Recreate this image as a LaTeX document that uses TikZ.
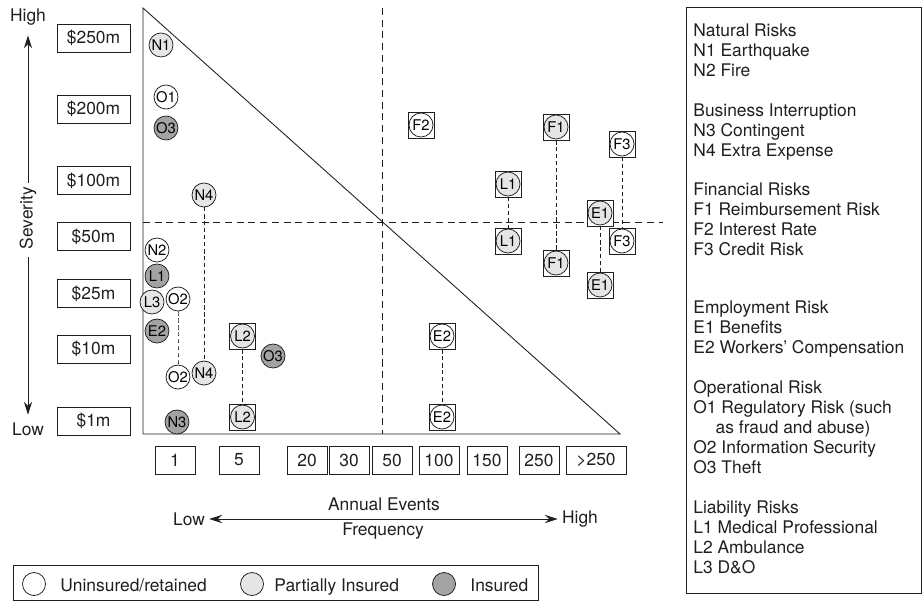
\documentclass[tikz,border=0pt]{standalone}
\usepackage{fontspec}
\setmainfont{TeX Gyre Heros}
\usepackage{tikz}
\usepackage{tikz-network}
\usetikzlibrary{arrows.meta}
\definecolor{partial}{gray}{0.9}
\definecolor{insured}{gray}{0.64}
\definecolor{ink}{gray}{0.12}
\newcommand{\mainsize}{\fontsize{14.85}{17.07}\selectfont}
\newcommand{\risksize}{\fontsize{12.6}{13}\selectfont}

\begin{document}
\begin{tikzpicture}[x=0.03cm,y=-0.03cm,line width=0.75pt,color=ink,font=\mainsize,
  sevbox/.style={draw,minimum width=2.19cm,minimum height=0.84cm,inner sep=0pt},
  freqbox/.style={draw,minimum width=1.2cm,minimum height=0.84cm,inner sep=0pt},
  axisdash/.style={dash pattern=on 6pt off 4pt},
  risk/.style={draw=ink,line width=0.65pt,inner sep=0pt},
  keytext/.style={anchor=base west,inner sep=0pt},
  tip/.style={-{Stealth[length=11pt,width=7pt]}},
  twotip/.style={{Stealth[length=11pt,width=7pt]}-{Stealth[length=11pt,width=7pt]}}]
\useasboundingbox (0,0) rectangle (923,601);

\node (high) at (28,17) {High};
\node[rotate=90] (sev) at (28,218) {Severity};
\node (low) at (28,429) {Low};
\draw[tip,shorten >=5pt] (sev.east) -- (high.south);
\draw[tip,shorten >=3pt,shorten <=3pt] (sev.west) -- (low.north);

\node[sevbox] (s250) at (93.5,38) {\$250m};
\node[sevbox] (s200) at (93.5,109) {\$200m};
\node[sevbox] (s100) at (93.5,180.5) {\$100m};
\node[sevbox] (s50) at (93.5,236.5) {\$50m};
\node[sevbox] (s25) at (93.5,293.5) {\$25m};
\node[sevbox] (s10) at (93.5,349) {\$10m};
\node[sevbox] (s1) at (93.5,421) {\$1m};

\draw (143,8) -- (143,434) -- (620,434) -- cycle;
\draw[axisdash] (382,8) -- (382,434);
\draw[axisdash] (143,222) -- (663,222);

\node[freqbox] (f1) at (175,460) {1};
\node[freqbox] (f5) at (239,460) {5};
\node[freqbox] (f20) at (307,460) {20};
\node[freqbox] (f30) at (349,460) {30};
\node[freqbox] (f50) at (392,460) {50};
\node[freqbox] (f100) at (439,460) {100};
\node[freqbox] (f150) at (487,460) {150};
\node[freqbox] (f250) at (539,460) {250};
\node[freqbox,minimum width=1.8cm] (fmax) at (596,460) {>250};

\node (annual) at (384,504) {Annual Events};
\node (freq) at (383,531) {Frequency};
\node (flow) at (189,519) {Low};
\node (fhigh) at (580,519) {High};
\draw[twotip] (flow) -- (fhigh);

\Vertex[x=4.83,y=-1.35,size=0.72,color=partial,label=N1,fontsize=\risksize,style={risk}]{N1}
\Vertex[x=4.98,y=-2.91,size=0.72,color=white,label=O1,fontsize=\risksize,style={risk}]{O1}
\Vertex[x=4.98,y=-3.84,size=0.72,color=insured,label=O3,fontsize=\risksize,style={risk}]{O3a}
\Vertex[x=6.12,y=-5.85,size=0.72,color=partial,label=N4,fontsize=\risksize,style={risk}]{N4a}
\Vertex[x=4.71,y=-7.50,size=0.72,color=white,label=N2,fontsize=\risksize,style={risk}]{N2}
\Vertex[x=4.71,y=-8.28,size=0.72,color=insured,label=L1,fontsize=\risksize,style={risk}]{L1a}
\Vertex[x=4.56,y=-9.06,size=0.72,color=partial,label=L3,fontsize=\risksize,style={risk}]{L3}
\Vertex[x=5.34,y=-8.97,size=0.72,color=white,label=O2,fontsize=\risksize,style={risk}]{O2a}
\Vertex[x=4.71,y=-9.93,size=0.72,color=insured,label=E2,fontsize=\risksize,style={risk}]{E2a}
\Vertex[x=8.19,y=-10.68,size=0.72,color=insured,label=O3,fontsize=\risksize,style={risk}]{O3b}
\Vertex[x=5.34,y=-11.31,size=0.72,color=white,label=O2,fontsize=\risksize,style={risk}]{O2b}
\Vertex[x=6.12,y=-11.19,size=0.72,color=partial,label=N4,fontsize=\risksize,style={risk}]{N4b}
\Vertex[x=5.31,y=-12.66,size=0.72,color=insured,label=N3,fontsize=\risksize,style={risk}]{N3}

\Vertex[x=7.275,y=-10.08,size=0.78,shape=rectangle,color=white,style={risk}]{BL2a}
\Vertex[x=7.275,y=-10.08,size=0.72,color=partial,label=L2,fontsize=\risksize,style={risk}]{L2a}
\Vertex[x=7.275,y=-12.51,size=0.78,shape=rectangle,color=white,style={risk}]{BL2b}
\Vertex[x=7.275,y=-12.51,size=0.72,color=partial,label=L2,fontsize=\risksize,style={risk}]{L2b}
\Vertex[x=13.26,y=-10.08,size=0.78,shape=rectangle,color=white,style={risk}]{BE2a}
\Vertex[x=13.26,y=-10.08,size=0.72,color=white,label=E2,fontsize=\risksize,style={risk}]{E2b}
\Vertex[x=13.26,y=-12.51,size=0.78,shape=rectangle,color=white,style={risk}]{BE2b}
\Vertex[x=13.26,y=-12.51,size=0.72,color=white,label=E2,fontsize=\risksize,style={risk}]{E2c}
\Vertex[x=12.63,y=-3.75,size=0.78,shape=rectangle,color=white,style={risk}]{BF2}
\Vertex[x=12.63,y=-3.75,size=0.72,color=white,label=F2,fontsize=\risksize,style={risk}]{F2}
\Vertex[x=16.68,y=-3.81,size=0.78,shape=rectangle,color=white,style={risk}]{BF1a}
\Vertex[x=16.68,y=-3.81,size=0.72,color=partial,label=F1,fontsize=\risksize,style={risk}]{F1a}
\Vertex[x=16.68,y=-7.89,size=0.78,shape=rectangle,color=white,style={risk}]{BF1b}
\Vertex[x=16.68,y=-7.89,size=0.72,color=partial,label=F1,fontsize=\risksize,style={risk}]{F1b}
\Vertex[x=18.66,y=-4.32,size=0.78,shape=rectangle,color=white,style={risk}]{BF3a}
\Vertex[x=18.66,y=-4.32,size=0.72,color=white,label=F3,fontsize=\risksize,style={risk}]{F3a}
\Vertex[x=18.66,y=-7.23,size=0.78,shape=rectangle,color=white,style={risk}]{BF3b}
\Vertex[x=18.66,y=-7.23,size=0.72,color=white,label=F3,fontsize=\risksize,style={risk}]{F3b}
\Vertex[x=15.24,y=-5.52,size=0.78,shape=rectangle,color=white,style={risk}]{BL1a}
\Vertex[x=15.24,y=-5.52,size=0.72,color=partial,label=L1,fontsize=\risksize,style={risk}]{L1b}
\Vertex[x=15.24,y=-7.23,size=0.78,shape=rectangle,color=white,style={risk}]{BL1b}
\Vertex[x=15.24,y=-7.23,size=0.72,color=partial,label=L1,fontsize=\risksize,style={risk}]{L1c}
\Vertex[x=18.00,y=-6.39,size=0.78,shape=rectangle,color=white,style={risk}]{BE1a}
\Vertex[x=18.00,y=-6.39,size=0.72,color=partial,label=E1,fontsize=\risksize,style={risk}]{E1a}
\Vertex[x=18.00,y=-8.55,size=0.78,shape=rectangle,color=white,style={risk}]{BE1b}
\Vertex[x=18.00,y=-8.55,size=0.72,color=partial,label=E1,fontsize=\risksize,style={risk}]{E1b}

\Edge[lw=0.65pt,color=ink,style={dash pattern=on 3.5pt off 2.5pt}](N4a)(N4b)
\Edge[lw=0.65pt,color=ink,style={dash pattern=on 3.5pt off 2.5pt}](O2a)(O2b)
\Edge[lw=0.65pt,color=ink,style={dash pattern=on 3.5pt off 2.5pt}](BL2a)(BL2b)
\Edge[lw=0.65pt,color=ink,style={dash pattern=on 3.5pt off 2.5pt}](BE2a)(BE2b)
\Edge[lw=0.65pt,color=ink,style={dash pattern=on 3.5pt off 2.5pt}](BF1a)(BF1b)
\Edge[lw=0.65pt,color=ink,style={dash pattern=on 3.5pt off 2.5pt}](BF3a)(BF3b)
\Edge[lw=0.65pt,color=ink,style={dash pattern=on 3.5pt off 2.5pt}](BL1a)(BL1b)
\Edge[lw=0.65pt,color=ink,style={dash pattern=on 3.5pt off 2.5pt}](BE1a)(BE1b)

\node[draw,minimum width=15.75cm,minimum height=1.05cm,anchor=north west] (covkey) at (13,565) {};
\Vertex[x=1.02,y=-17.52,size=0.69,color=white,style={risk}]{Kwhite}
\Vertex[x=7.56,y=-17.52,size=0.69,color=partial,style={risk}]{Kpartial}
\Vertex[x=13.32,y=-17.52,size=0.69,color=insured,style={risk}]{Kinsured}
\node[keytext] (kuninsured) at (60,591) {Uninsured/retained};
\node[keytext] (kpartly) at (274,591) {Partially Insured};
\node[keytext] (kfull) at (470,591) {Insured};

\node[draw,minimum width=7.05cm,minimum height=17.58cm,anchor=north west] (riskbox) at (686,7) {};
\node[anchor=north west,align=left,inner sep=0pt] (riskkey) at (693,23) {Natural Risks\\
N1 Earthquake\\
N2 Fire\\[17pt]
Business Interruption\\
N3 Contingent\\
N4 Extra Expense\\[17pt]
Financial Risks\\
F1 Reimbursement Risk\\
F2 Interest Rate\\
F3 Credit Risk\\[32pt]
Employment Risk\\
E1 Benefits\\
E2 Workers' Compensation\\[17pt]
Operational Risk\\
O1 Regulatory Risk (such\\
\hspace*{19pt}as fraud and abuse)\\
O2 Information Security\\
O3 Theft\\[17pt]
Liability Risks\\
L1 Medical Professional\\
L2 Ambulance\\
L3 D\&O};
\end{tikzpicture}
\end{document}
